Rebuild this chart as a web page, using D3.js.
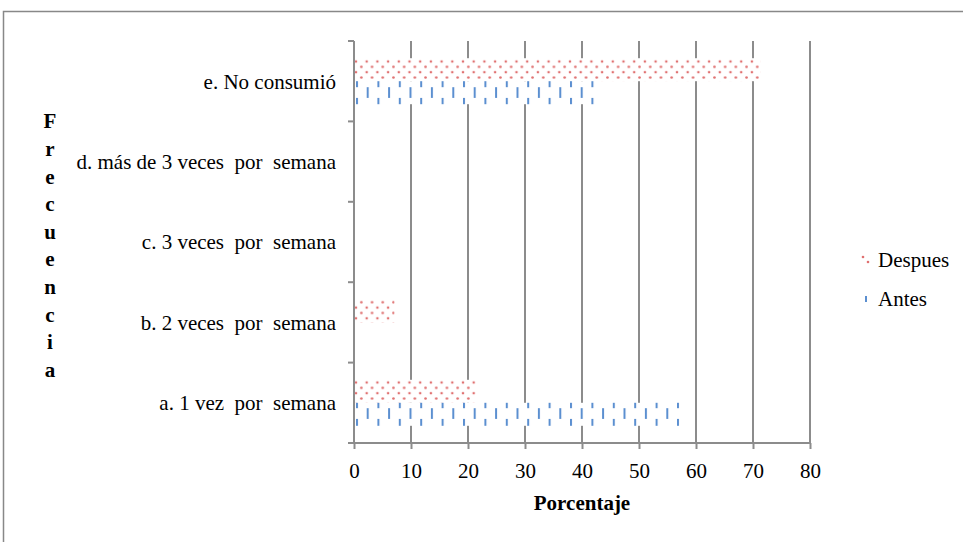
<!DOCTYPE html>
<html><head><meta charset="utf-8">
<script src="https://cdn.jsdelivr.net/npm/d3@7"></script>
<style>body{margin:0;background:#fff}svg{display:block}</style>
</head><body>
<script>
const categories = ["a. 1 vez  por  semana","b. 2 veces  por  semana","c. 3 veces  por  semana","d. más de 3 veces  por  semana","e. No consumió"];
const despues = [21.4, 7.1, 0, 0, 71.4];
const antes = [57.1, 0, 0, 0, 42.9];
const xTicks = [0,10,20,30,40,50,60,70,80];
const seriesNames = ["Despues","Antes"];
const yTitle = "Frecuencia";
const xTitle = "Porcentaje";

const FONT="'Liberation Serif', 'Times New Roman', serif";
const FS="21px";
const W=963,H=542;
const svg=d3.select("body").append("svg").attr("width",W).attr("height",H);
const defs=svg.append("defs");
const RED="#e07070", BLUE="#5b8fd0";
const pd=defs.append("pattern").attr("id","dots").attr("patternUnits","userSpaceOnUse").attr("width",10.7).attr("height",10.7).attr("x",356).attr("y",61.5);
pd.append("rect").attr("width",10.7).attr("height",10.7).attr("fill","#fff");
[[0,0],[10.7,0],[0,10.7],[10.7,10.7],[5.35,5.35]].forEach(p=>pd.append("circle").attr("cx",p[0]).attr("cy",p[1]).attr("r",1.3).attr("fill",RED));
const pa=defs.append("pattern").attr("id","dash").attr("patternUnits","userSpaceOnUse").attr("width",21.4).attr("height",21.4).attr("x",356).attr("y",76.5);
pa.append("rect").attr("width",21.4).attr("height",21.4).attr("fill","#fff");
pa.append("rect").attr("x",0).attr("y",0).attr("width",2).attr("height",10.7).attr("fill",BLUE);
pa.append("rect").attr("x",10.7).attr("y",10.7).attr("width",2).attr("height",10.7).attr("fill",BLUE);

svg.append("rect").attr("x",3.5).attr("y",11.5).attr("width",W).attr("height",H).attr("fill","none").attr("stroke","#888").attr("stroke-width",1.5);

const x=d3.scaleLinear().domain([0,80]).range([354,810]);
const y=d3.scaleBand().domain(categories.slice().reverse()).range([41,443]);
const bh=23;

svg.append("g").selectAll("line").data(xTicks.slice(1)).join("line")
 .attr("x1",d=>x(d)).attr("x2",d=>x(d)).attr("y1",41).attr("y2",443)
 .attr("stroke","#8c8c8c").attr("stroke-width",2);

const data=categories.map((c,i)=>({c,d:despues[i],a:antes[i]}));
svg.append("g").selectAll("rect").data(data.filter(d=>d.d>0)).join("rect")
 .attr("x",x(0)).attr("y",d=>y(d.c)+y.bandwidth()/2-bh).attr("width",d=>x(d.d)-x(0)).attr("height",bh).attr("fill","url(#dots)");
svg.append("g").selectAll("rect").data(data.filter(d=>d.a>0)).join("rect")
 .attr("x",x(0)).attr("y",d=>y(d.c)+y.bandwidth()/2).attr("width",d=>x(d.a)-x(0)).attr("height",bh).attr("fill","url(#dash)");

const xa=svg.append("g").attr("transform","translate(0,443)").call(d3.axisBottom(x).tickValues(xTicks).tickSize(6).tickFormat(d3.format("d")));
xa.attr("font-family",null).attr("font-size",null);
xa.select(".domain").attr("stroke","#8c8c8c").attr("stroke-width",2).attr("d","M"+(x(0)-1)+",0H"+x(80));
xa.selectAll(".tick line").attr("stroke","#8c8c8c").attr("stroke-width",2);
xa.selectAll(".tick text").attr("y",28).attr("dy","0.35em").attr("style",`font-family:${FONT};font-size:${FS}`).attr("fill","#000");

const ya=svg.append("g").attr("transform","translate(354,0)");
ya.append("line").attr("x1",0).attr("x2",0).attr("y1",41).attr("y2",443).attr("stroke","#8c8c8c").attr("stroke-width",2);
const bounds=categories.map(c=>y(c)).concat([443]);
ya.selectAll("line.t").data(bounds).join("line").attr("class","t").attr("x1",-6).attr("x2",0).attr("y1",d=>d).attr("y2",d=>d).attr("stroke","#8c8c8c").attr("stroke-width",2);
svg.append("g").selectAll("text").data(categories).join("text")
 .attr("x",336).attr("y",d=>y(d)+y.bandwidth()/2).attr("dy","0.35em").attr("text-anchor","end")
 .attr("style",`font-family:${FONT};font-size:${FS};white-space:pre`).text(d=>d);

svg.append("g").selectAll("text").data(yTitle.split("")).join("text")
 .attr("x",50).attr("y",(d,i)=>121+i*27.6).attr("dy","0.35em").attr("text-anchor","middle")
 .attr("style",`font-family:${FONT};font-size:${FS};font-weight:bold`).text(d=>d);
svg.append("text").attr("x",582).attr("y",503).attr("dy","0.35em").attr("text-anchor","middle")
 .attr("style",`font-family:${FONT};font-size:${FS};font-weight:bold`).text(xTitle);

const lg=svg.append("g");
const ly=[260,299];
seriesNames.forEach((s,i)=>{
  const g=lg.append("g").attr("transform",`translate(866,${ly[i]})`);
  if(i==0){
    g.append("circle").attr("cx",-3).attr("cy",-3).attr("r",1.3).attr("fill",RED);
    g.append("circle").attr("cx",2).attr("cy",2).attr("r",1.3).attr("fill",RED);
  } else {
    g.append("rect").attr("x",-1).attr("y",-3).attr("width",2).attr("height",6).attr("fill",BLUE);
  }
  lg.append("text").attr("x",878).attr("y",ly[i]).attr("dy","0.35em")
   .attr("style",`font-family:${FONT};font-size:${FS}`).text(s);
});
</script>
</body></html>
